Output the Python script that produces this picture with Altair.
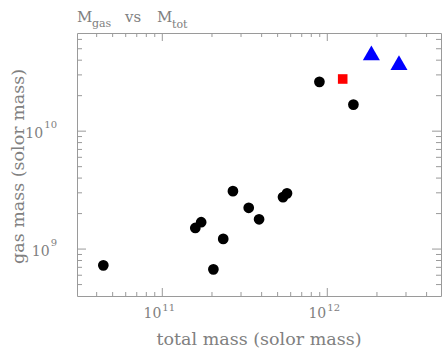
import altair as alt
import pandas as pd

# ---- data ----
circ_x = [4.39e10, 1.585e11, 1.72e11, 2.04e11, 2.34e11, 2.68e11, 3.34e11,
          3.86e11, 5.39e11, 5.70e11, 8.96e11, 1.44e12]
circ_y = [7.28e8, 1.51e9, 1.69e9, 6.73e8, 1.22e9, 3.10e9, 2.24e9,
          1.79e9, 2.76e9, 2.97e9, 2.62e10, 1.68e10]
sq_x = [1.24e12]
sq_y = [2.77e10]
tri_x = [1.85e12, 2.72e12]
tri_y = [4.61e10, 3.82e10]

x_major = [1e11, 1e12]
x_exp = ["11", "12"]
x_minor = [4e10, 5e10, 6e10, 7e10, 8e10, 9e10,
           2e11, 3e11, 4e11, 5e11, 6e11, 7e11, 8e11, 9e11,
           2e12, 3e12, 4e12]
y_major = [1e9, 1e10]
y_exp = ["9", "10"]
y_minor = [5e8, 6e8, 7e8, 8e8, 9e8,
           2e9, 3e9, 4e9, 5e9, 6e9, 7e9, 8e9, 9e9,
           2e10, 3e10, 4e10, 5e10, 6e10]

x_domain = [3.04e10, 4.89e12]
y_domain = [4.0e8, 6.8e10]

title_parts = ["M", "gas", "vs", "M", "tot"]
x_title = "total mass (solor mass)"
y_title = "gas mass (solor mass)"

# ---- chart ----
W, H = 364, 263
GRAY = "#808080"
AX = "#9a9a9a"
FONT = "DejaVu Serif"

xs = alt.Scale(type="log", domain=x_domain, nice=False)
ys = alt.Scale(type="log", domain=y_domain, nice=False)


def xy(df):
    return dict(x=alt.X("x:Q", scale=xs, axis=None), y=alt.Y("y:Q", scale=ys, axis=None))


circles = alt.Chart(pd.DataFrame({"x": circ_x, "y": circ_y})).mark_point(
    shape="circle", filled=True, opacity=1, strokeWidth=0, size=115, color="#000000").encode(**xy(None))
squares = alt.Chart(pd.DataFrame({"x": sq_x, "y": sq_y})).mark_point(
    shape="square", filled=True, opacity=1, strokeWidth=0, size=92, color="#ff0000").encode(**xy(None))
triangles = alt.Chart(pd.DataFrame({"x": tri_x, "y": tri_y})).mark_point(
    shape="triangle-up", filled=True, opacity=1, strokeWidth=0, size=290, color="#0000ff").encode(**xy(None))

xmaj = pd.DataFrame({"v": x_major, "e": x_exp})
xmin = pd.DataFrame({"v": x_minor})
ymaj = pd.DataFrame({"v": y_major, "e": y_exp})
ymin = pd.DataFrame({"v": y_minor})


def xticks(df, length):
    base = alt.Chart(df).mark_rule(color=AX, strokeWidth=1)
    bottom = base.encode(x=alt.X("v:Q", scale=xs, axis=None), y=alt.value(H), y2=alt.value(H - length))
    top = base.encode(x=alt.X("v:Q", scale=xs, axis=None), y=alt.value(0), y2=alt.value(length))
    return [bottom, top]


def yticks(df, length):
    base = alt.Chart(df).mark_rule(color=AX, strokeWidth=1)
    left = base.encode(y=alt.Y("v:Q", scale=ys, axis=None), x=alt.value(0), x2=alt.value(length))
    right = base.encode(y=alt.Y("v:Q", scale=ys, axis=None), x=alt.value(W), x2=alt.value(W - length))
    return [left, right]


ticks = xticks(xmaj, 8) + xticks(xmin, 4) + yticks(ymaj, 9) + yticks(ymin, 5)

# x tick labels: "10" with raised exponent
xl_base = alt.Chart(xmaj).mark_text(font=FONT, fontSize=14, color=GRAY, align="right",
                                    baseline="alphabetic", dx=-1).encode(
    x=alt.X("v:Q", scale=xs, axis=None), y=alt.value(285), text=alt.value("10"))
xl_exp = alt.Chart(xmaj).mark_text(font=FONT, fontSize=10, color=GRAY, align="left",
                                   baseline="alphabetic", dx=0).encode(
    x=alt.X("v:Q", scale=xs, axis=None), y=alt.value(278), text="e:N")

# y tick labels, right aligned at the same place
ylabels = []
for v, e in zip(y_major, y_exp):
    d = pd.DataFrame({"v": [v], "e": [e]})
    ew = 6.4 * len(e)
    ylabels.append(alt.Chart(d).mark_text(font=FONT, fontSize=10, color=GRAY, align="right",
                                          baseline="alphabetic", dy=-3).encode(
        y=alt.Y("v:Q", scale=ys, axis=None), x=alt.value(-20), text="e:N"))
    ylabels.append(alt.Chart(d).mark_text(font=FONT, fontSize=14, color=GRAY, align="right",
                                          baseline="alphabetic", dy=7).encode(
        y=alt.Y("v:Q", scale=ys, axis=None), x=alt.value(-20 - ew - 1), text=alt.value("10")))

one = pd.DataFrame({"k": [0]})


def txt(s, x, y, size, **kw):
    return alt.Chart(one).mark_text(font=FONT, fontSize=size, color=GRAY, baseline="alphabetic", **kw).encode(
        x=alt.value(x), y=alt.value(y), text=alt.value(s))


titles = [
    txt(title_parts[0], 0, -11, 15, align="left"),
    txt(title_parts[1], 15, -6, 11, align="left"),
    txt(title_parts[2], 48, -11, 15, align="left"),
    txt(title_parts[3], 80, -11, 15, align="left"),
    txt(title_parts[4], 95, -5, 11, align="left"),
    txt(x_title, W / 2, 312, 17.5, align="center"),
    alt.Chart(one).mark_text(font=FONT, fontSize=17.5, color=GRAY, align="center",
                             baseline="middle", angle=270).encode(
        x=alt.value(-58), y=alt.value(H / 2 + 2), text=alt.value(y_title)),
]

chart = alt.layer(circles, squares, triangles, *ticks, xl_base, xl_exp, *ylabels, *titles).properties(
    width=W, height=H,
    autosize=alt.AutoSizeParams(type="none"),
    padding={"left": 77, "top": 33, "right": 1, "bottom": 55},
    background="white",
).configure_view(stroke=AX, strokeWidth=1)

chart.save("out.html", embed_options={"renderer": "svg", "actions": False})
